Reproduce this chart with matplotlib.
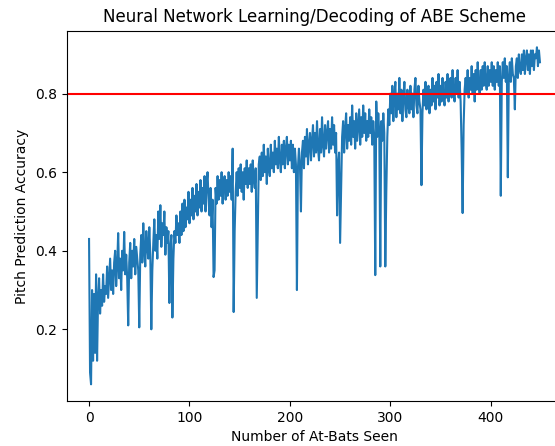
import matplotlib
matplotlib.use("Agg")
import matplotlib.pyplot as plt
import numpy as np

title = "Neural Network Learning/Decoding of ABE Scheme"
x_label = "Number of At-Bats Seen"
y_label = "Pitch Prediction Accuracy"
target_accuracy = 0.8

# accuracy after each at-bat seen
accuracy = [
    0.43, 0.09, 0.06, 0.30, 0.12, 0.29, 0.14, 0.34, 0.12, 0.28,
    0.33, 0.24, 0.30, 0.26, 0.34, 0.27, 0.31, 0.29, 0.36, 0.28,
    0.33, 0.38, 0.30, 0.35, 0.29, 0.37, 0.40, 0.31, 0.36, 0.445,
    0.33, 0.38, 0.30, 0.40, 0.35, 0.448, 0.34, 0.39, 0.33, 0.21,
    0.37, 0.42, 0.33, 0.40, 0.36, 0.43, 0.34, 0.41, 0.38, 0.35,
    0.205, 0.39, 0.44, 0.37, 0.47, 0.40, 0.36, 0.45, 0.41, 0.38,
    0.46, 0.39, 0.20, 0.35, 0.42, 0.48, 0.40, 0.44, 0.38, 0.50,
    0.43, 0.516, 0.41, 0.47, 0.44, 0.50, 0.39, 0.46, 0.42, 0.45,
    0.267, 0.41, 0.44, 0.23, 0.38, 0.45, 0.42, 0.49, 0.44, 0.47,
    0.42, 0.50, 0.44, 0.52, 0.45, 0.53, 0.46, 0.51, 0.48, 0.55,
    0.47, 0.53, 0.49, 0.56, 0.48, 0.54, 0.50, 0.57, 0.49, 0.55,
    0.51, 0.58, 0.50, 0.56, 0.52, 0.59, 0.50, 0.57, 0.60, 0.53,
    0.49, 0.56, 0.46, 0.53, 0.333, 0.35, 0.56, 0.52, 0.59, 0.53,
    0.58, 0.54, 0.60, 0.52, 0.57, 0.59, 0.53, 0.58, 0.54, 0.60,
    0.55, 0.59, 0.53, 0.66, 0.244, 0.45, 0.55, 0.60, 0.54, 0.61,
    0.56, 0.62, 0.55, 0.60, 0.53, 0.61, 0.57, 0.63, 0.56, 0.61,
    0.57, 0.62, 0.55, 0.63, 0.58, 0.56, 0.61, 0.28, 0.45, 0.62,
    0.64, 0.58, 0.65, 0.59, 0.67, 0.60, 0.64, 0.57, 0.66, 0.61,
    0.59, 0.67, 0.61, 0.65, 0.60, 0.68, 0.62, 0.66, 0.61, 0.69,
    0.63, 0.60, 0.67, 0.62, 0.68, 0.61, 0.66, 0.69, 0.62, 0.67,
    0.63, 0.68, 0.61, 0.67, 0.60, 0.66, 0.62, 0.30, 0.61, 0.66,
    0.62, 0.50, 0.65, 0.68, 0.61, 0.69, 0.64, 0.71, 0.62, 0.67,
    0.70, 0.63, 0.68, 0.72, 0.64, 0.70, 0.65, 0.73, 0.66, 0.63,
    0.71, 0.65, 0.74, 0.67, 0.64, 0.72, 0.66, 0.70, 0.73, 0.65,
    0.71, 0.66, 0.74, 0.67, 0.72, 0.65, 0.70, 0.49, 0.62, 0.65,
    0.42, 0.55, 0.69, 0.73, 0.65, 0.71, 0.75, 0.66, 0.72, 0.68,
    0.74, 0.67, 0.77, 0.69, 0.73, 0.66, 0.75, 0.68, 0.72, 0.76,
    0.67, 0.74, 0.69, 0.77, 0.70, 0.75, 0.68, 0.73, 0.69, 0.76,
    0.70, 0.74, 0.67, 0.73, 0.69, 0.338, 0.78, 0.69, 0.75, 0.70,
    0.36, 0.73, 0.68, 0.75, 0.70, 0.36, 0.55, 0.69, 0.76, 0.72,
    0.80, 0.75, 0.82, 0.73, 0.79, 0.83, 0.74, 0.80, 0.76, 0.84,
    0.75, 0.81, 0.73, 0.79, 0.83, 0.76, 0.74, 0.81, 0.77, 0.75,
    0.82, 0.76, 0.80, 0.74, 0.81, 0.84, 0.77, 0.75, 0.82, 0.78,
    0.76, 0.567, 0.75, 0.81, 0.77, 0.83, 0.76, 0.80, 0.82, 0.75,
    0.81, 0.77, 0.84, 0.78, 0.82, 0.76, 0.83, 0.79, 0.85, 0.77,
    0.82, 0.78, 0.84, 0.79, 0.77, 0.83, 0.79, 0.85, 0.78, 0.82,
    0.84, 0.79, 0.86, 0.80, 0.78, 0.84, 0.80, 0.86, 0.79, 0.83,
    0.78, 0.66, 0.496, 0.72, 0.81, 0.84, 0.80, 0.86, 0.79, 0.84,
    0.81, 0.87, 0.80, 0.85, 0.78, 0.86, 0.81, 0.88, 0.82, 0.80,
    0.86, 0.81, 0.87, 0.82, 0.88, 0.83, 0.81, 0.87, 0.82, 0.86,
    0.83, 0.88, 0.82, 0.87, 0.81, 0.86, 0.83, 0.88, 0.82, 0.87,
    0.54, 0.83, 0.88, 0.84, 0.89, 0.83, 0.87, 0.587, 0.84, 0.88,
    0.83, 0.89, 0.85, 0.84, 0.76, 0.87, 0.89, 0.84, 0.90, 0.86,
    0.85, 0.90, 0.86, 0.91, 0.85, 0.89, 0.91, 0.86, 0.90, 0.85,
    0.91, 0.87, 0.91, 0.86, 0.90, 0.89, 0.918, 0.87, 0.91, 0.88,
]
at_bats = np.arange(len(accuracy))

fig = plt.figure(figsize=(5.55, 4.46), dpi=100)
ax = fig.add_axes([66.5 / 555, 44.8 / 446, 496 / 555, 370.4 / 446])

ax.plot(at_bats, accuracy, color="#1f77b4", linewidth=1.5)
ax.axhline(target_accuracy, color="red", linewidth=1.5)

ax.set_ylim(0.017, 0.960)
ax.set_yticks([0.2, 0.4, 0.6, 0.8])
ax.set_xticks([0, 100, 200, 300, 400])
ax.set_title(title, fontsize=12)
ax.set_xlabel(x_label)
ax.set_ylabel(y_label)

fig.savefig("out.png", dpi=100)
